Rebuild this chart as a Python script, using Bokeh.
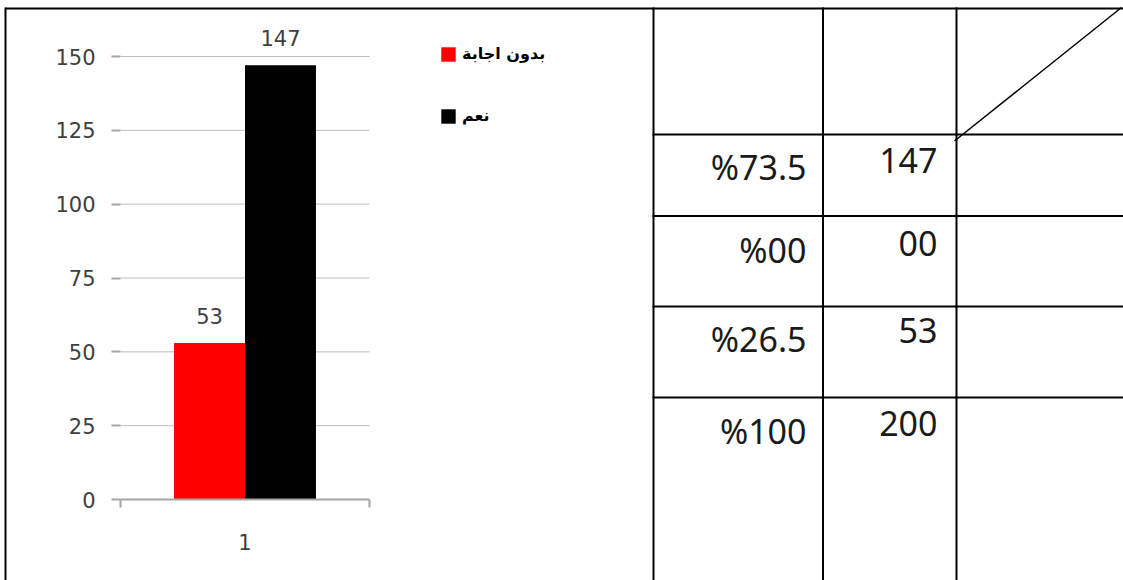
from bokeh.plotting import figure
from bokeh.models import (ColumnDataSource, Range1d, FixedTicker, LinearAxis,
                          Legend, LegendItem, LabelSet)
from bokeh.transform import dodge
from bokeh.core.properties import value
from bokeh.embed import file_html
from bokeh.resources import INLINE

# ---------------- data ----------------
categories = ["1"]
series_names = ["بدون اجابة", "نعم"]
series_colors = ["#ff0000", "#000000"]
values_no_answer = [53]
values_yes = [147]
y_ticks = [0, 25, 50, 75, 100, 125, 150]

table_counts = ["147", "00", "53", "200"]
table_percents = ["%73.5", "%00", "%26.5", "%100"]

# ---------------- style / layout constants ----------------
TICK_FONT = "DejaVu Sans"
TICK_SIZE = "21px"
TICK_COLOR = "#404040"
GRID_COLOR = "#bfbfbf"
AXIS_COLOR = "#a6a6a6"
BAR_W = 0.285
OFF = 0.1425

W, H = 1123, 580              # page = canvas (template has no body margin)
PLOT_L, PLOT_R = 120, 369     # page x of the plot area
Y_ZERO, Y_TOP_TICK = 499, 56  # page y of value 0 and of value 150

n_cat = len(categories)
cat_x = [i + 0.5 for i in range(n_cat)]
px_per_cat = (PLOT_R - PLOT_L) / n_cat
px_per_unit = (Y_ZERO - Y_TOP_TICK) / y_ticks[-1]

p = figure(width=W, height=H, output_backend="svg", toolbar_location=None,
           x_range=Range1d(-PLOT_L / px_per_cat, (W - PLOT_L) / px_per_cat),
           y_range=Range1d(-(H - Y_ZERO) / px_per_unit, Y_ZERO / px_per_unit),
           x_axis_location=None, y_axis_location=None,
           min_border=0, min_border_left=0, min_border_right=0,
           min_border_top=0, min_border_bottom=0)
p.outline_line_color = None
p.background_fill_color = "white"
p.border_fill_color = "white"
p.xgrid.visible = False
p.ygrid.visible = False
# page-pixel coordinate system for the table and the page frame
p.extra_x_ranges = {"px": Range1d(0, W)}
p.extra_y_ranges = {"py": Range1d(H, 0)}

# horizontal value gridlines across the plot area
p.segment(x0=[0] * (len(y_ticks) - 1), x1=[n_cat] * (len(y_ticks) - 1),
          y0=y_ticks[1:], y1=y_ticks[1:], line_color=GRID_COLOR, line_width=1)

src_no = ColumnDataSource(dict(x=cat_x, top=values_no_answer,
                               label=[str(v) for v in values_no_answer]))
src_yes = ColumnDataSource(dict(x=cat_x, top=values_yes,
                                label=[str(v) for v in values_yes]))

r_no = p.vbar(x=dodge("x", -OFF, range=p.x_range), top="top", bottom=0,
              width=BAR_W, source=src_no, fill_color=series_colors[0],
              line_color=None)
r_yes = p.vbar(x=dodge("x", OFF, range=p.x_range), top="top", bottom=0,
               width=BAR_W, source=src_yes, fill_color=series_colors[1],
               line_color=None)

for src, off in ((src_no, -OFF), (src_yes, OFF)):
    p.add_layout(LabelSet(x=dodge("x", off, range=p.x_range), y="top",
                          text="label", source=src, y_offset=19,
                          text_align="center", text_baseline="bottom",
                          text_font=value(TICK_FONT), text_font_size=TICK_SIZE,
                          text_color=TICK_COLOR))

# y axis, drawn at the left edge of the plot area
yax = LinearAxis(ticker=FixedTicker(ticks=y_ticks), fixed_location=0,
                 bounds=(y_ticks[0], y_ticks[-1]))
yax.axis_line_color = None
yax.major_tick_out = 9
yax.major_tick_in = 0
yax.major_tick_line_color = AXIS_COLOR
yax.major_tick_line_width = 2
yax.minor_tick_line_color = None
yax.major_label_standoff = 16
yax.major_label_text_font = TICK_FONT
yax.major_label_text_font_size = TICK_SIZE
yax.major_label_text_color = TICK_COLOR
p.add_layout(yax, "left")

# x axis, drawn at value 0
xax = LinearAxis(ticker=FixedTicker(ticks=cat_x,
                                    minor_ticks=list(range(n_cat + 1))),
                 fixed_location=0, bounds=(0, n_cat))
xax.major_label_overrides = {x: c for x, c in zip(cat_x, categories)}
xax.axis_line_color = AXIS_COLOR
xax.axis_line_width = 2
xax.major_tick_line_color = None
xax.major_tick_out = 0
xax.major_tick_in = 0
xax.minor_tick_line_color = AXIS_COLOR
xax.minor_tick_line_width = 2
xax.minor_tick_out = 8
xax.minor_tick_in = 0
xax.major_label_standoff = 26
xax.major_label_text_font = TICK_FONT
xax.major_label_text_font_size = TICK_SIZE
xax.major_label_text_color = TICK_COLOR
p.add_layout(xax, "below")

legend = Legend(items=[LegendItem(label=series_names[0], renderers=[r_no]),
                       LegendItem(label=series_names[1], renderers=[r_yes])],
                location=(439, 455), orientation="vertical",
                margin=0, padding=0, spacing=43,
                glyph_width=18, glyph_height=18, label_height=18,
                label_standoff=5, border_line_color=None,
                background_fill_alpha=0,
                label_text_font="DejaVu Sans",
                label_text_font_size="16px", label_text_font_style="bold",
                label_text_color="#000000")
p.add_layout(legend, "center")

# ---------------- table and page frame (page-pixel coordinates) ----------------
v_lines = [5, 653, 822.5, 956]
h_lines = [8, 134, 215.5, 306, 397]
seg_x0 = [v for v in v_lines] + [5 if h == 8 else 652 for h in h_lines]
seg_x1 = [v for v in v_lines] + [W + 5] * len(h_lines)
seg_y0 = [7] * len(v_lines) + h_lines
seg_y1 = [H + 5] * len(v_lines) + h_lines
p.segment(x0=seg_x0, y0=seg_y0, x1=seg_x1, y1=seg_y1, line_color="black",
          line_width=2, x_range_name="px", y_range_name="py")
p.segment(x0=[954], y0=[140.5], x1=[1121], y1=[7], line_color="black",
          line_width=1.5, x_range_name="px", y_range_name="py")

pct_y = [166, 249, 338, 430]
cnt_y = [160, 243, 330, 423]
p.text(x=[806] * len(table_percents), y=pct_y, text=table_percents,
       x_range_name="px", y_range_name="py",
       text_align="right", text_baseline="middle",
       text_font=value("Noto Sans"), text_font_size="34px",
       text_color="#1a1a1a")
p.text(x=[937] * len(table_counts), y=cnt_y, text=table_counts,
       x_range_name="px", y_range_name="py",
       text_align="right", text_baseline="middle",
       text_font=value("Noto Sans"), text_font_size="34px",
       text_color="#1a1a1a")

open("out.html", "w").write(file_html(p, INLINE))
